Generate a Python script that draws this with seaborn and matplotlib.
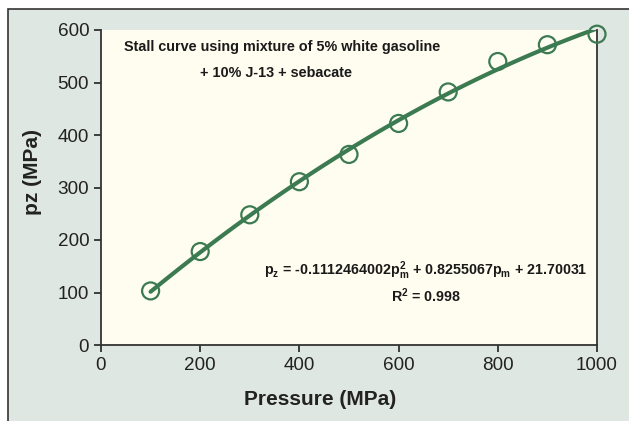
import matplotlib
matplotlib.use("Agg")
import matplotlib.pyplot as plt
from matplotlib.patches import Rectangle
import seaborn as sns
import pandas as pd

pressure = [100, 200, 300, 400, 500, 600, 700, 800, 900, 1000]
pz = [103, 178, 248, 311, 363, 422, 482, 540, 572, 592]
x_ticks = [0, 200, 400, 600, 800, 1000]
y_ticks = [0, 100, 200, 300, 400, 500, 600]

df = pd.DataFrame({"Pressure": pressure, "pz": pz})

sns.set_theme(style="ticks")
plt.rcParams["font.family"] = ["Liberation Sans", "DejaVu Sans"]

green = "#3c7a52"
fig = plt.figure(figsize=(6.29, 4.21), dpi=100, facecolor="white")
fig.patches.append(Rectangle((7.5 / 629, -0.1), 1.2, (421 - 9.5) / 421 + 0.1,
                             transform=fig.transFigure, facecolor="#dfe7e2",
                             edgecolor="#333333", linewidth=1.2, zorder=-10))
ax = fig.add_axes([101 / 629, (421 - 345) / 421, (597 - 101) / 629, (345 - 30) / 421])
ax.set_facecolor("#fffdf0")

sns.regplot(data=df, x="Pressure", y="pz", order=2, ci=None, ax=ax,
            scatter_kws=dict(s=150, facecolors="none", edgecolors=green, linewidths=1.6,
                             alpha=1, zorder=3),
            line_kws=dict(color=green, linewidth=3, zorder=2), color=green)

ax.set_xlim(0, 1000)
ax.set_ylim(0, 600)
ax.set_xticks(x_ticks)
ax.set_yticks(y_ticks)
ax.tick_params(axis="both", labelsize=13.6, colors="#222222", length=5, width=1.2, direction="out")
for s in ["left", "bottom", "right"]:
    ax.spines[s].set_color("#333333")
    ax.spines[s].set_linewidth(1.3)
ax.spines["top"].set_visible(False)
ax.set_xlabel("Pressure (MPa)", fontsize=15, fontweight="bold", color="#222222")
ax.set_ylabel("pz (MPa)", fontsize=15, fontweight="bold", color="#222222")
ax.xaxis.set_label_coords(0.4415, -0.143)
ax.yaxis.set_label_coords(-0.119, 0.549)
for s in ax.collections:
    s.set_clip_on(False)

narrow = ["Liberation Sans Narrow", "Liberation Sans", "DejaVu Sans"]
ax.text(0.365, (345 - 47) / 315, "Stall curve using mixture of 5% white gasoline",
        transform=ax.transAxes, ha="center", va="center", fontsize=10.4, fontweight="bold",
        family=narrow, color="#1a1a1a")
ax.text((276 - 101) / 496, (345 - 73) / 315, "+ 10% J-13 + sebacate",
        transform=ax.transAxes, ha="center", va="center", fontsize=10.4, fontweight="bold",
        family=narrow, color="#1a1a1a")
ax.text(0.655, 0.235,
        r"p$_\mathregular{z}$ = -0.1112464002p$_\mathregular{m}^\mathregular{2}$ + 0.8255067p$_\mathregular{m}$ + 21.70031",
        transform=ax.transAxes, ha="center", va="center", fontsize=10.3, fontweight="bold",
        family=narrow, color="#1a1a1a")
ax.text(0.655, 0.158, r"R$^\mathregular{2}$ = 0.998",
        transform=ax.transAxes, ha="center", va="center", fontsize=10.3, fontweight="bold",
        family=narrow, color="#1a1a1a")

fig.savefig("out.png", dpi=100, facecolor=fig.get_facecolor())
